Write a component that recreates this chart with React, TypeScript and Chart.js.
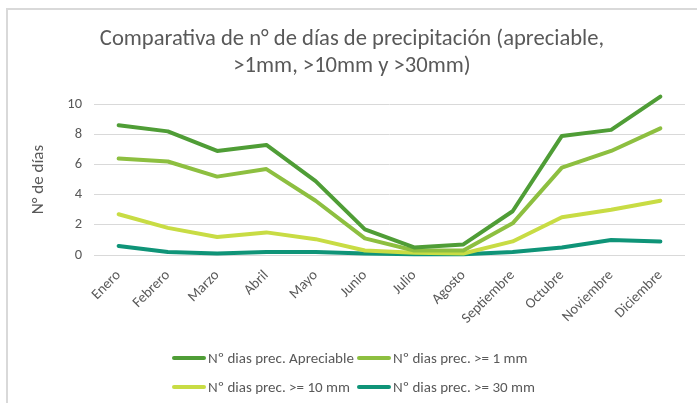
import React, { useEffect, useRef } from 'react';
import { Chart, registerables } from 'chart.js';

Chart.register(...registerables);

const months = ['Enero', 'Febrero', 'Marzo', 'Abril', 'Mayo', 'Junio', 'Julio', 'Agosto', 'Septiembre', 'Octubre', 'Noviembre', 'Diciembre'];
const apreciable = [8.6, 8.2, 6.9, 7.3, 4.9, 1.7, 0.5, 0.7, 2.9, 7.9, 8.3, 10.5];
const mas1mm = [6.4, 6.2, 5.2, 5.7, 3.6, 1.1, 0.3, 0.3, 2.1, 5.8, 6.9, 8.4];
const mas10mm = [2.7, 1.8, 1.2, 1.5, 1.05, 0.3, 0.15, 0.1, 0.9, 2.5, 3.0, 3.6];
const mas30mm = [0.6, 0.2, 0.1, 0.2, 0.2, 0.1, 0.05, 0.05, 0.2, 0.5, 1.0, 0.9];
const seriesNames = ['Nº dias prec. Apreciable', 'Nº dias prec. >= 1 mm', 'Nº dias prec. >= 10 mm', 'Nº dias prec. >= 30 mm'];
const seriesColors = ['#4f9d36', '#8dbf40', '#c8dc44', '#0f9478'];
const titleLines = ['Comparativa de n° de días de precipitación (apreciable,', '>1mm, >10mm y >30mm)'];
const yTitle = 'N° de días';

const FONT = 'Calibri, Carlito, Lato, sans-serif';
const TEXT = '#595959';

export default function App() {
  const ref = useRef<HTMLCanvasElement>(null);
  useEffect(() => {
    const values = [apreciable, mas1mm, mas10mm, mas30mm];
    const chart = new Chart(ref.current!, {
      type: 'line',
      data: {
        labels: months,
        datasets: values.map((v, i) => ({
          label: seriesNames[i],
          data: v,
          borderColor: seriesColors[i],
          backgroundColor: seriesColors[i],
          borderWidth: 4,
          pointRadius: 0,
          tension: 0,
          clip: false as any,
          borderJoinStyle: 'round' as const,
          borderCapStyle: 'round' as const,
        })),
      },
      options: {
        responsive: false,
        animation: false,
        devicePixelRatio: 1,
        layout: { padding: { left: 19, right: 12, top: 0, bottom: 68 } },
        plugins: {
          legend: { display: false },
          tooltip: { enabled: false },
          title: {
            display: true,
            text: titleLines,
            color: TEXT,
            font: { family: FONT, size: 22.6, weight: 'normal', lineHeight: 1.2 },
            padding: { top: 26, bottom: 24 },
          },
        },
        scales: {
          x: {
            offset: true,
            grid: { display: false, drawTicks: false },
            border: { display: false },
            ticks: {
              color: TEXT,
              font: { family: FONT, size: 14.5 },
              maxRotation: 45,
              minRotation: 45,
              padding: 12,
              autoSkip: false,
            },
            afterFit: (s: any) => { s.height = 80; },
          },
          y: {
            min: 0,
            max: 10,
            ticks: { stepSize: 2, color: TEXT, font: { family: FONT, size: 14.5 }, padding: 12 },
            grid: { color: '#d9d9d9', lineWidth: 1, drawTicks: false },
            border: { display: false },
            title: {
              display: true,
              text: yTitle,
              color: TEXT,
              font: { family: FONT, size: 17, weight: 'normal', lineHeight: 1.2 },
              padding: { top: 10, bottom: 0 },
            },
            afterFit: (s: any) => { s.width = 75; },
          },
        },
      },
    });
    return () => chart.destroy();
  }, []);

  const legendPos = [
    { x: 172, y: 358 },
    { x: 357, y: 358 },
    { x: 172, y: 387 },
    { x: 357, y: 387 },
  ];

  return (
    <div style={{ position: 'absolute', left: 0, top: 0, width: 697, height: 403, overflow: 'hidden', background: '#fff' }}>
      <div style={{ position: 'absolute', left: 6, top: 8, width: 800, height: 500, borderTop: '2px solid #d9d9d9', borderLeft: '2px solid #d9d9d9' }} />
      <canvas ref={ref} width={697} height={403} style={{ position: 'absolute', left: 0, top: 0 }} />
      {seriesNames.map((n, i) => (
        <div key={n} style={{ position: 'absolute', left: legendPos[i].x, top: legendPos[i].y - 10, height: 20, display: 'flex', alignItems: 'center', whiteSpace: 'nowrap', fontFamily: FONT, fontSize: 15, color: TEXT }}>
          <span style={{ display: 'inline-block', width: 34, height: 4, borderRadius: 2, background: seriesColors[i], marginRight: 2 }} />
          <span>{n}</span>
        </div>
      ))}
    </div>
  );
}
